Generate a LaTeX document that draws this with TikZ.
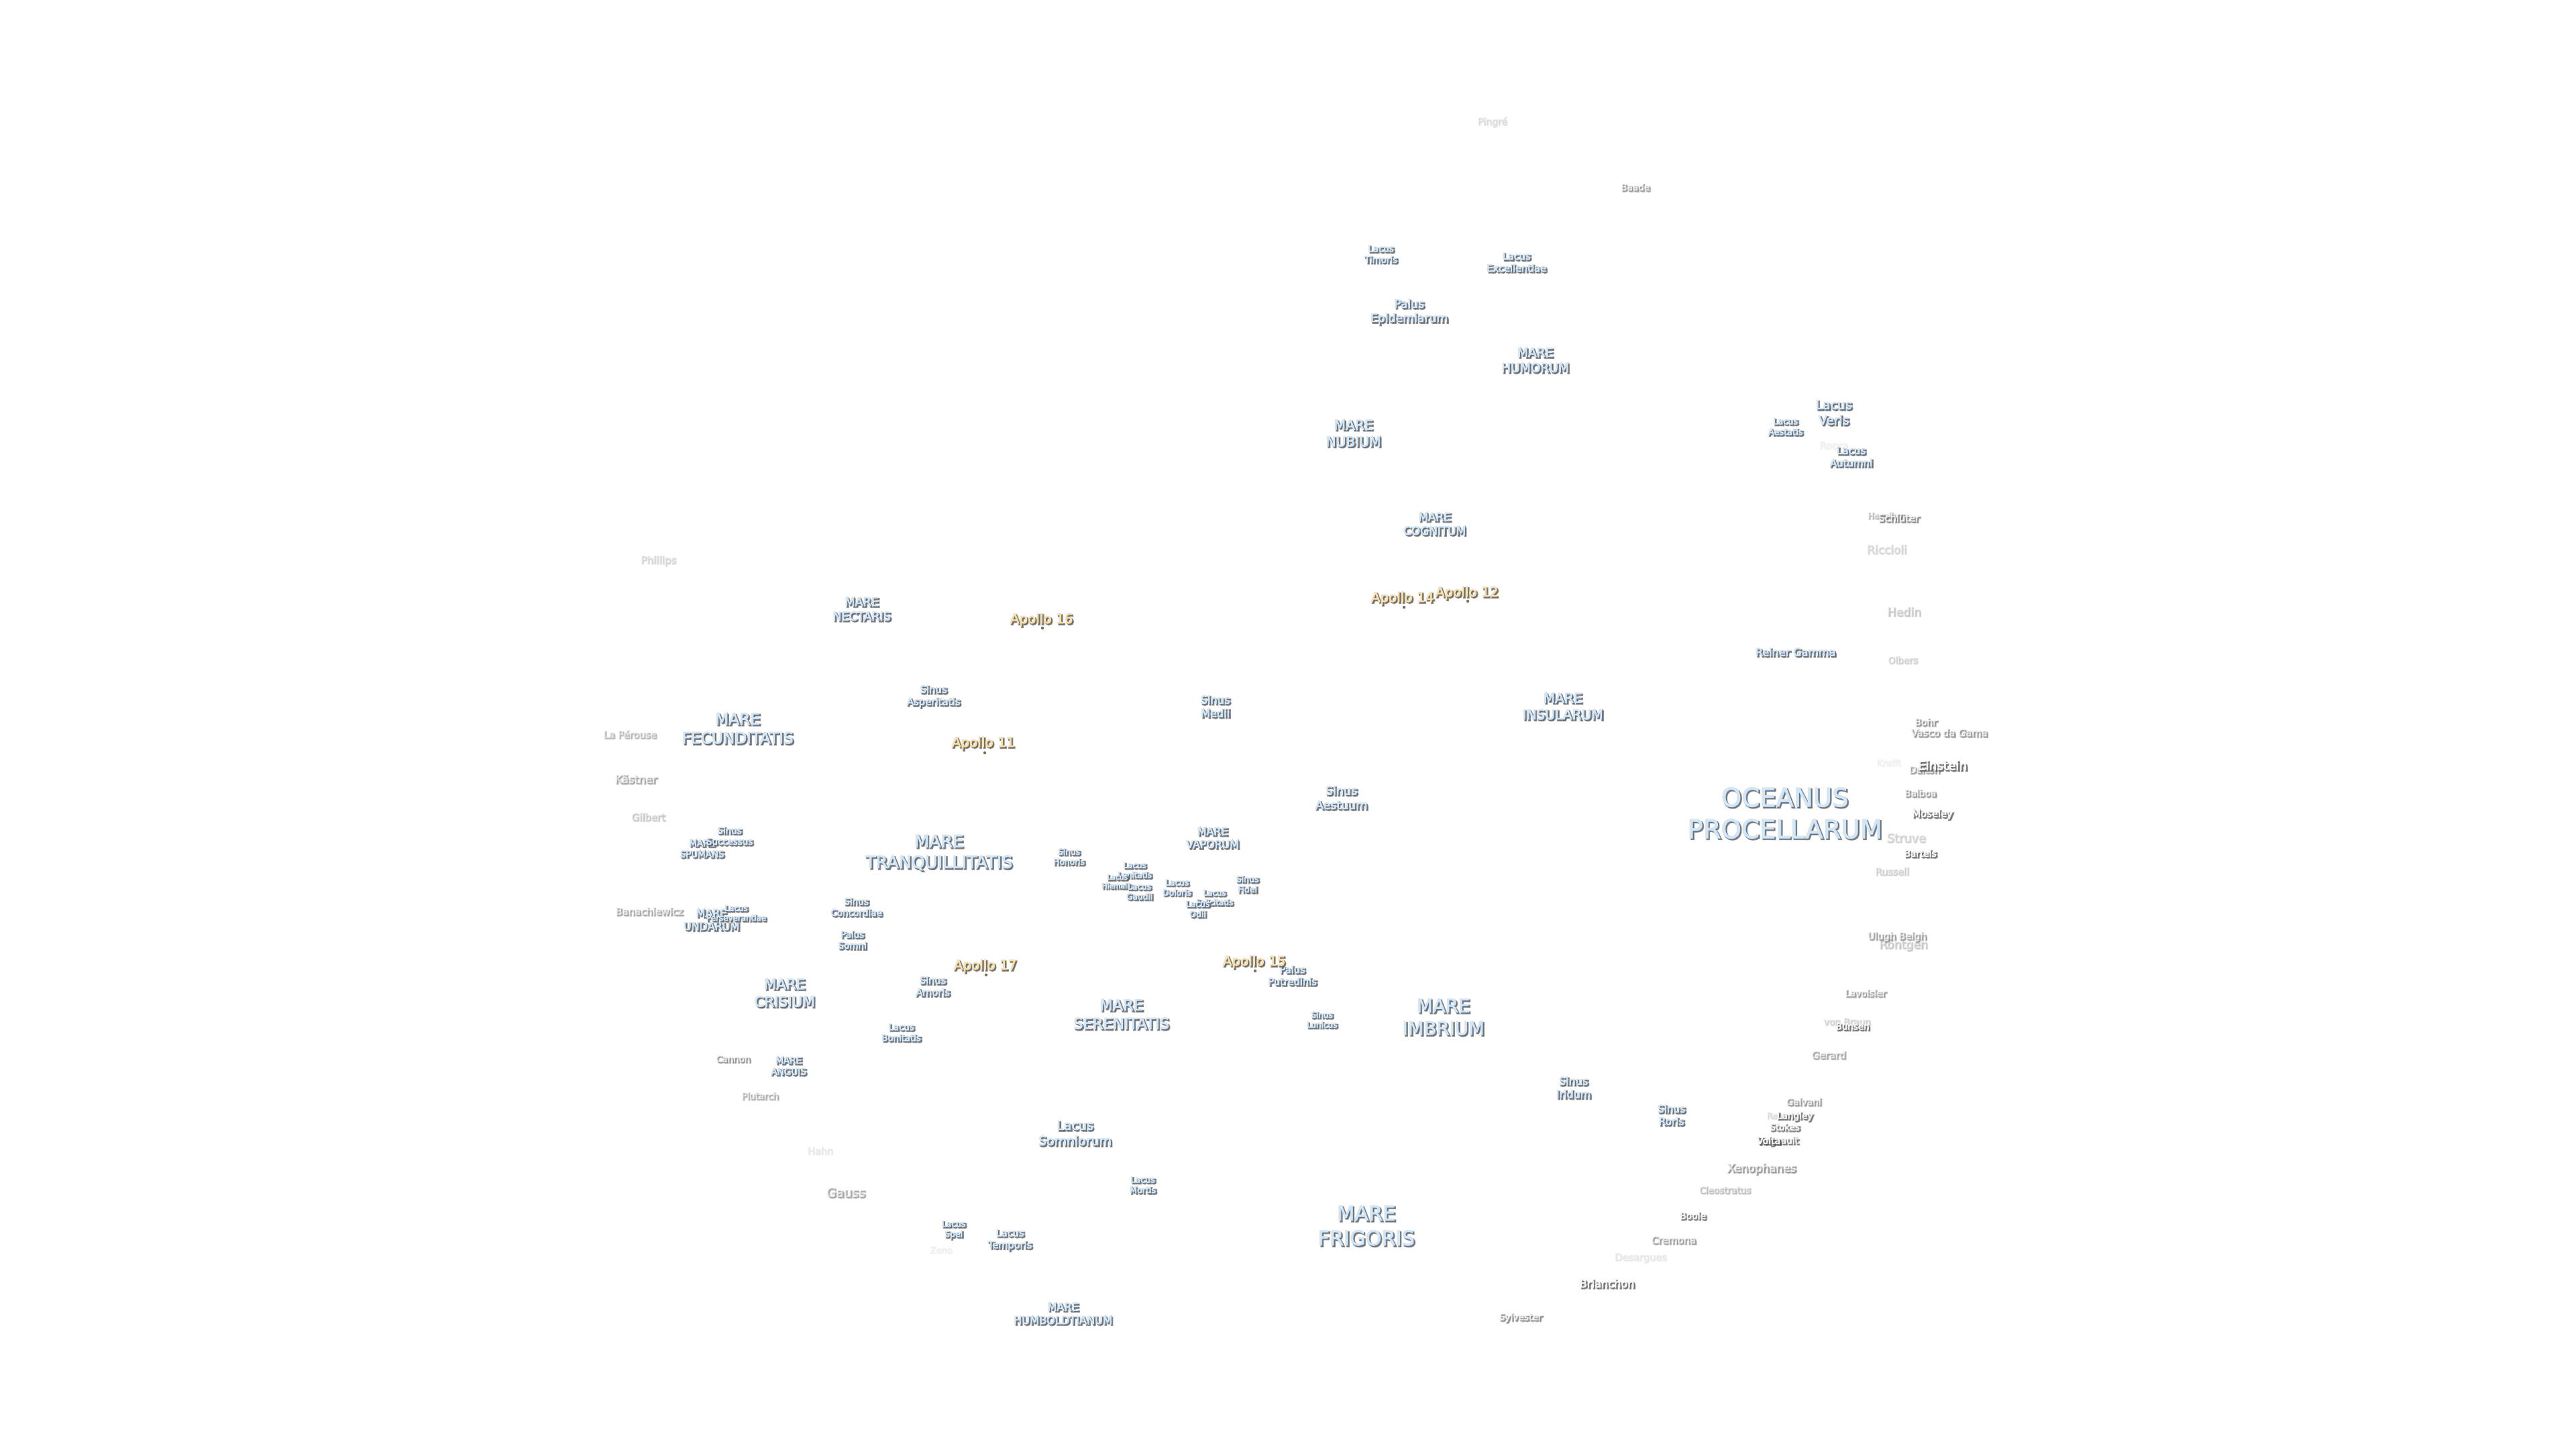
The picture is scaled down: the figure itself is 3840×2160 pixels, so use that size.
\documentclass[tikz,border=0pt]{standalone}
\usepackage{fontspec}
\setmainfont{DejaVu Sans}
\definecolor{mareF}{HTML}{CFE6FB}
\definecolor{apolloF}{HTML}{F8E0AC}
\definecolor{craterF}{HTML}{F6F6F6}
\definecolor{shadowc}{HTML}{505050}
\definecolor{dotc}{HTML}{7A6E50}
\def\mareS{0.30 0.36 0.43 RG}
\def\apolloS{0.42 0.40 0.33 RG}
\def\craterS{0.32 0.32 0.32 RG}
\def\shadowS{0.31 0.31 0.31 RG}
\tikzset{
  x=0.5pt,y=-0.5pt,
  lbl/.style={inner sep=0pt,align=center},
  apdot/.style={circle,inner sep=0pt,minimum size=2.2pt,fill=dotc},
}
\newcommand{\lb}[7]{%
  \pgfmathsetmacro\fs{#4*0.5}\pgfmathsetmacro\ls{#4*0.61}\pgfmathsetmacro\so{#6*0.6}%
  \node[lbl,opacity=\so,text=shadowc,font=\fontsize{\fs}{\ls}\selectfont,
    execute at begin node=\special{pdf:code 2 Tr 1.0 w \shadowS},
    execute at end node=\special{pdf:code 0 Tr}] (#1s) at (#2+0.5,#3+1.5) {#7};
  \node[lbl,opacity=#6,text=#5F,font=\fontsize{\fs}{\ls}\selectfont,
    execute at begin node=\special{pdf:code 2 Tr 0.4 w \csname #5S\endcsname},
    execute at end node=\special{pdf:code 0 Tr}] (#1) at (#2-1.5,#3-0.5) {#7};
}
\begin{document}
\begin{tikzpicture}
\useasboundingbox[fill=white] (0,0) rectangle (3840,2160);
% Maria and other dark features
\lb{oceanus}{2662}{1212}{38.6}{mare}{1}{OCEANUS\\PROCELLARUM}
\lb{fecund}{1101}{1086}{23.3}{mare}{1}{MARE\\FECUNDITATIS}
\lb{tranq}{1401}{1271}{25.5}{mare}{1}{MARE\\TRANQUILLITATIS}
\lb{seren}{1673}{1512}{22.6}{mare}{1}{MARE\\SERENITATIS}
\lb{imbrium}{2153}{1516}{27.6}{mare}{1}{MARE\\IMBRIUM}
\lb{frigoris}{2038}{1827}{30.4}{mare}{1}{MARE\\FRIGORIS}
\lb{crisium}{1171}{1480}{21.4}{mare}{1}{MARE\\CRISIUM}
\lb{insularum}{2331}{1053}{20.2}{mare}{1}{MARE\\INSULARUM}
\lb{nubium}{2019}{646}{20.3}{mare}{1}{MARE\\NUBIUM}
\lb{humorum}{2290}{537}{18.6}{mare}{1}{MARE\\HUMORUM}
\lb{cognitum}{2140}{781}{16.9}{mare}{1}{MARE\\COGNITUM}
\lb{nectaris}{1286}{908}{17.6}{mare}{1}{MARE\\NECTARIS}
\lb{vaporum}{1809}{1249}{15.8}{mare}{1}{MARE\\VAPORUM}
\lb{spumans}{1048}{1265}{13.4}{mare}{1}{MARE\\SPUMANS}
\lb{undarum}{1062}{1371}{16}{mare}{1}{MARE\\UNDARUM}
\lb{anguis}{1177}{1589}{13.6}{mare}{1}{MARE\\ANGUIS}
\lb{humboldt}{1586}{1958}{16.2}{mare}{1}{MARE\\HUMBOLDTIANUM}
\lb{asper}{1393}{1038}{14.9}{mare}{1}{Sinus\\Asperitatis}
\lb{success}{1089}{1246}{13.4}{mare}{1}{Sinus\\Successus}
\lb{concord}{1278}{1352}{13.6}{mare}{1}{Sinus\\Concordiae}
\lb{honoris}{1595}{1277}{12.2}{mare}{1}{Sinus\\Honoris}
\lb{fidei}{1861}{1318}{12.5}{mare}{1}{Sinus\\Fidei}
\lb{aestuum}{2001}{1189}{17.5}{mare}{1}{Sinus\\Aestuum}
\lb{medii}{1813}{1053}{16.3}{mare}{1}{Sinus\\Medii}
\lb{amoris}{1392}{1470}{14.6}{mare}{1}{Sinus\\Amoris}
\lb{lunicus}{1972}{1520}{12}{mare}{1}{Sinus\\Lunicus}
\lb{iridum}{2347}{1621}{16}{mare}{1}{Sinus\\Iridum}
\lb{roris}{2493}{1662}{15.3}{mare}{1}{Sinus\\Roris}
\lb{somni}{1272}{1401}{13.5}{mare}{1}{Palus\\Somni}
\lb{putred}{1928}{1454}{14.6}{mare}{1}{Palus\\Putredinis}
\lb{epidem}{2102}{465}{17.3}{mare}{1}{Palus\\Epidemiarum}
\lb{persev}{1099}{1361}{11.9}{mare}{1}{Lacus\\Perseverantiae}
\lb{lenit}{1693}{1297}{11.9}{mare}{1}{Lacus\\Lenitatis}
\lb{hiemal}{1667}{1314}{10.7}{mare}{1}{Lacus\\Hiemalis}
\lb{gaudii}{1700}{1329}{12.2}{mare}{1}{Lacus\\Gaudii}
\lb{doloris}{1756}{1323}{12.3}{mare}{1}{Lacus\\Doloris}
\lb{felicit}{1812}{1338}{11.7}{mare}{1}{Lacus\\Felicitatis}
\lb{odii}{1787}{1355}{12.5}{mare}{1}{Lacus\\Odii}
\lb{bonit}{1345}{1539}{13.3}{mare}{1}{Lacus\\Bonitatis}
\lb{somnior}{1604}{1689}{18.9}{mare}{1}{Lacus\\Somniorum}
\lb{mortis}{1705}{1766}{12.7}{mare}{1}{Lacus\\Mortis}
\lb{spei}{1423}{1833}{12.4}{mare}{1}{Lacus\\Spei}
\lb{tempor}{1507}{1848}{14.6}{mare}{1}{Lacus\\Temporis}
\lb{timoris}{2060}{379}{13.4}{mare}{1}{Lacus\\Timoris}
\lb{excell}{2262}{391}{14.6}{mare}{1}{Lacus\\Excellentiae}
\lb{veris}{2735}{615}{18.8}{mare}{1}{Lacus\\Veris}
\lb{aestat}{2663}{636}{12.9}{mare}{1}{Lacus\\Aestatis}
\lb{autumni}{2761}{681}{15}{mare}{1}{Lacus\\Autumni}
\lb{reiner}{2678}{972}{16}{mare}{1}{Reiner Gamma}
% Apollo sites
\lb{ap16}{1554}{924}{20}{apollo}{1}{Apollo 16}
\lb{ap11}{1467}{1108}{20}{apollo}{1}{Apollo 11}
\lb{ap17}{1470}{1440}{20}{apollo}{1}{Apollo 17}
\lb{ap15}{1871}{1434}{20}{apollo}{1}{Apollo 15}
\lb{ap14}{2092}{892}{20}{apollo}{1}{Apollo 14}
\lb{ap12}{2188}{884}{20}{apollo}{1}{Apollo 12}
\node[apdot] (d16) at (1554,936) {};
\node[apdot] (d11) at (1468,1122) {};
\node[apdot] (d17) at (1470,1453) {};
\node[apdot] (d15) at (1871,1447) {};
\node[apdot] (d14) at (2093,905) {};
\node[apdot] (d12) at (2188,896) {};
% Craters
\lb{laperouse}{940}{1094}{14.5}{crater}{0.4}{La Pérouse}
\lb{kastner}{949}{1161}{16.3}{crater}{0.5}{Kästner}
\lb{gilbert}{967}{1217}{14.8}{crater}{0.3}{Gilbert}
\lb{banach}{969}{1358}{14.8}{crater}{0.5}{Banachiewicz}
\lb{cannon}{1094}{1578}{13.4}{crater}{0.6}{Cannon}
\lb{plutarch}{1134}{1633}{13.4}{crater}{0.45}{Plutarch}
\lb{hahn}{1223}{1714}{14.4}{crater}{0.12}{Hahn}
\lb{gauss}{1262}{1777}{19}{crater}{0.5}{Gauss}
\lb{zeno}{1403}{1862}{13}{crater}{0.08}{Zeno}
\lb{phillips}{982}{835}{15}{crater}{0.22}{Phillips}
\lb{pingre}{2225}{181}{14}{crater}{0.18}{Pingré}
\lb{baade}{2439}{279}{13.6}{crater}{0.6}{Baade}
\lb{rocca}{2734}{663}{14.2}{crater}{0.08}{Rocca}
\lb{hevelius}{2811}{768}{12.1}{crater}{0.4}{Hevelius}
\lb{schluter}{2832}{772}{14.7}{crater}{0.7}{Schlüter}
\lb{riccioli}{2813}{818}{16.9}{crater}{0.22}{Riccioli}
\lb{hedin}{2839}{911}{17.2}{crater}{0.3}{Hedin}
\lb{olbers}{2837}{983}{13.6}{crater}{0.25}{Olbers}
\lb{bohr}{2872}{1076}{14}{crater}{0.65}{Bohr}
\lb{vasco}{2907}{1092}{14.7}{crater}{0.6}{Vasco da Gama}
\lb{krafft}{2816}{1136}{13}{crater}{0.07}{Krafft}
\lb{dalton}{2870}{1147}{13.8}{crater}{0.55}{Dalton}
\lb{einstein}{2897}{1141}{18.4}{crater}{1}{Einstein}
\lb{balboa}{2864}{1182}{13.7}{crater}{0.6}{Balboa}
\lb{moseley}{2882}{1214}{14.8}{crater}{0.95}{Moseley}
\lb{struve}{2842}{1248}{17.7}{crater}{0.25}{Struve}
\lb{bartels}{2864}{1272}{13.7}{crater}{1}{Bartels}
\lb{russell}{2821}{1298}{14.4}{crater}{0.25}{Russell}
\lb{rontgen}{2838}{1408}{17.3}{crater}{0.3}{Röntgen}
\lb{ulugh}{2829}{1396}{14.4}{crater}{0.55}{Ulugh Beigh}
\lb{lavoisier}{2782}{1480}{13.6}{crater}{0.55}{Lavoisier}
\lb{vonbraun}{2754}{1522}{13.6}{crater}{0.25}{von Braun}
\lb{bunsen}{2763}{1530}{13.4}{crater}{0.95}{Bunsen}
\lb{gerard}{2727}{1572}{14.8}{crater}{0.5}{Gerard}
\lb{galvani}{2690}{1642}{13.8}{crater}{0.6}{Galvani}
\lb{repsold}{2658}{1663}{12}{crater}{0.18}{Repsold}
\lb{langley}{2677}{1664}{13.6}{crater}{0.9}{Langley}
\lb{stokes}{2662}{1680}{13.4}{crater}{0.85}{Stokes}
\lb{regnault}{2652}{1701}{13.6}{crater}{0.85}{Regnault}
\lb{volta}{2638}{1700}{14}{crater}{1}{Volta}
\lb{xenoph}{2627}{1742}{16.7}{crater}{0.6}{Xenophanes}
\lb{cleostr}{2572}{1773}{13.5}{crater}{0.35}{Cleostratus}
\lb{boole}{2525}{1812}{13.9}{crater}{0.85}{Boole}
\lb{cremona}{2496}{1848}{14.7}{crater}{0.55}{Cremona}
\lb{desargues}{2446}{1874}{14.6}{crater}{0.12}{Desargues}
\lb{brianchon}{2397}{1913}{16.2}{crater}{0.95}{Brianchon}
\lb{sylvester}{2268}{1964}{13.7}{crater}{0.7}{Sylvester}
\end{tikzpicture}
\end{document}
